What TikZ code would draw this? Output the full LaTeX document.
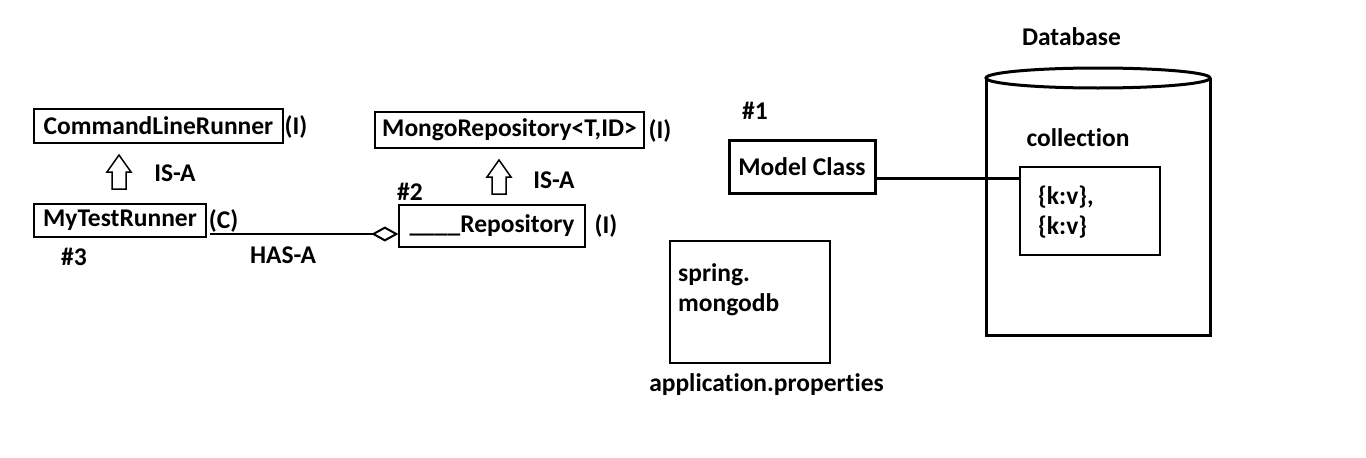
\documentclass[tikz,border=0pt]{standalone}
\usepackage{fontspec}
\setmainfont{Carlito}[Ligatures=NoCommon]
\usetikzlibrary{arrows.meta}
% hollow IS-A arrow, tip at (#1,#2)
\newcommand{\isaup}[2]{\draw[line width=1.5] (#1,#2) -- ++(12,17) -- ++(-5,0) -- ++(0,17) -- ++(-14,0) -- ++(0,-17) -- ++(-5,0) -- cycle;}
\begin{document}
\begin{tikzpicture}[x=1pt,y=-1pt,
  every node/.style={font=\bfseries\fontsize{25.5}{30}\selectfont,inner sep=0pt},
  box/.style={draw=black,line width=#1},
  box/.default=1.3]
\useasboundingbox (0,0) rectangle (1366,458);
% left part
\node[box,minimum width=249,minimum height=34] (clr) at (158.5,126) {CommandLineRunner};
\node (clrI) at (296,127) {(I)};
\isaup{119}{155}
\node (isa1) at (175,173) {IS-A};
\node[box,minimum width=172,minimum height=33] (mtr) at (120,220.5) {MyTestRunner};
\node (mtrC) at (223.5,221) {(C)};
\node (n3) at (74,257) {\#3};
\node (hasa) at (283,255) {HAS-A};
% repositories
\node[box,minimum width=269,minimum height=36] (mongo) at (509.5,130) {MongoRepository<T,ID>};
\node (mongoI) at (660,131) {(I)};
\isaup{499}{160}
\node (isa2) at (554,180) {IS-A};
\node (n2) at (410,192) {\#2};
\node[box,minimum width=186,minimum height=42] (rep) at (492,226) {\_\_\_\_Repository};
\node (repI) at (606,226) {(I)};
\coordinate (hasstart) at (210,234);
\draw[line width=2,-{Diamond[open,length=27pt,width=15pt]}] (hasstart) -- (hasstart -| rep.west);
% model and properties
\node (n1) at (755,111) {\#1};
\node[box=3,minimum width=146,minimum height=53] (mc) at (802,166.5) {Model Class};
\node[box=2,minimum width=160,minimum height=122] (spring) at (750,302) {};
\node[anchor=west,align=left] (springtxt) at (678,290) {spring.\\mongodb};
\node (appprops) at (766.5,385) {application.properties};
% database
\draw[line width=3] (986,78) -- (986,335) -- (1210,335) -- (1210,78);
\draw[line width=3] (1098,78) ellipse [x radius=112,y radius=10];
\node (db) at (1071.5,37) {Database};
\node (colltxt) at (1078,138) {collection};
\node[box=2.5,minimum width=140,minimum height=88] (coll) at (1090,211) {};
\node[anchor=west,align=left] (kv) at (1038,212) {\{k:v\},\\\{k:v\}};
\coordinate (link) at ([yshift=-11.5pt]mc.east);
\draw[line width=3] (link) -- (link -| coll.west);
\end{tikzpicture}
\end{document}
